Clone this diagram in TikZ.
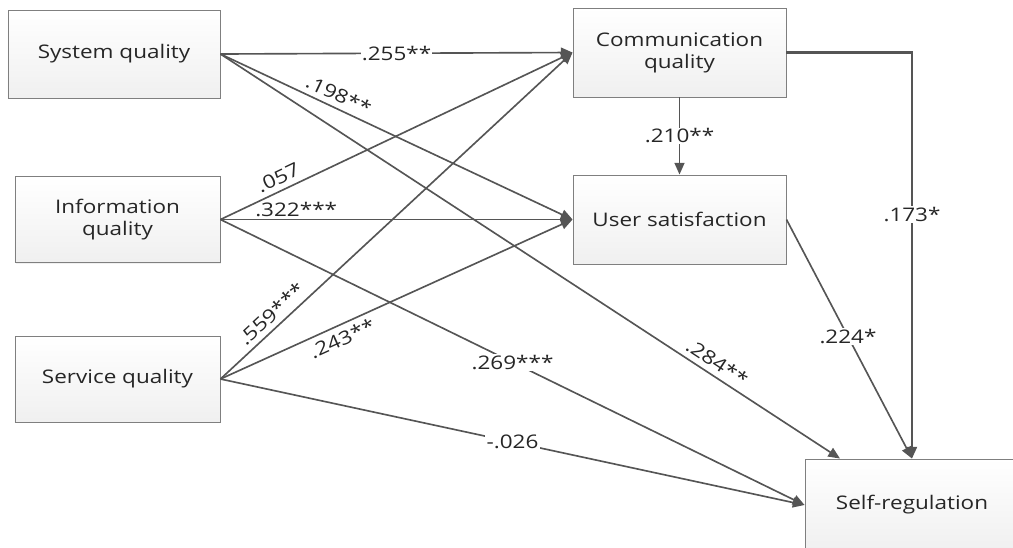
\documentclass[tikz,border=0pt]{standalone}
\usepackage{fontspec}
\setsansfont[FakeStretch=1.2]{Open Sans}
\usetikzlibrary{arrows.meta, positioning, shadows}
\definecolor{cline}{HTML}{555555}
\definecolor{cborder}{HTML}{7F7F7F}
\definecolor{ctext}{HTML}{262626}
\tikzset{
  every picture/.style={font=\sffamily\fontsize{16}{19}\selectfont, line width=1.4pt, text=ctext},
  box/.style={draw=cborder, line width=0.8pt, top color=white, bottom color=gray!12, align=center,
    minimum width=6.15cm, minimum height=2.58cm,
    drop shadow={shadow xshift=1.2pt, shadow yshift=-1.2pt, opacity=0.12}},
  link/.style={-{Triangle[length=10pt, width=8.5pt]}, draw=cline},
  cut/.style={fill=white, inner sep=1pt},
  coef/.style={sloped, inner sep=4.5pt},
}

\begin{document}
\begin{tikzpicture}[x=0.03cm, y=-0.03cm]
  \clip (0,0) rectangle (1013,547);
  % constructs
  \node[box, minimum width=6.36cm, minimum height=2.64cm] (sys) at (114,54) {System quality};
  \node[box] (info) at (117.5,219.5) {Information\\quality};
  \node[box] (serv) at (117.5,379) {Service quality};
  \node[box, minimum width=6.39cm, minimum height=2.67cm] (comm) at (679.5,52.5) {Communication\\quality};
  \node[box, minimum width=6.39cm, minimum height=2.67cm] (user) at (679.5,219.5) {User satisfaction};
  \node[box, minimum width=6.42cm, minimum height=2.76cm] (self) at (912,505) {Self-regulation};
  % paths
  \draw[link] (sys.east) -- node[cut] {.255**} (comm.west);
  \draw[link] (sys.east) -- node[coef, above, pos=0.32] {.198**} (user.west);
  \draw[link] (sys.east) -- node[coef, above, pos=0.79] {.284**} ([xshift=-2.16cm]self.north);
  \draw[link] (info.east) -- node[coef, above, pos=0.18] {.057} (comm.west);
  \draw[link] (info.east) -- node[above, pos=0.215, inner sep=2pt] {.322***} (user.west);
  \draw[link] (info.east) -- node[cut] {.269***} (self.west);
  \draw[link] (serv.east) -- node[coef, above, pos=0.17] {.559***} (comm.west);
  \draw[link] (serv.east) -- node[coef, below, pos=0.33] {.243**} (user.west);
  \draw[link] (serv.east) -- node[cut] {-.026} (self.west);
  \draw[link] (comm) -- node[cut] {.210**} (user);
  \draw[link, line width=1.8pt] (comm.east) -| node[cut, pos=0.7] {.173*} (self.north);
  \draw[link] (user.east) -- node[cut, pos=0.49] {.224*} (self.north);
\end{tikzpicture}
\end{document}
